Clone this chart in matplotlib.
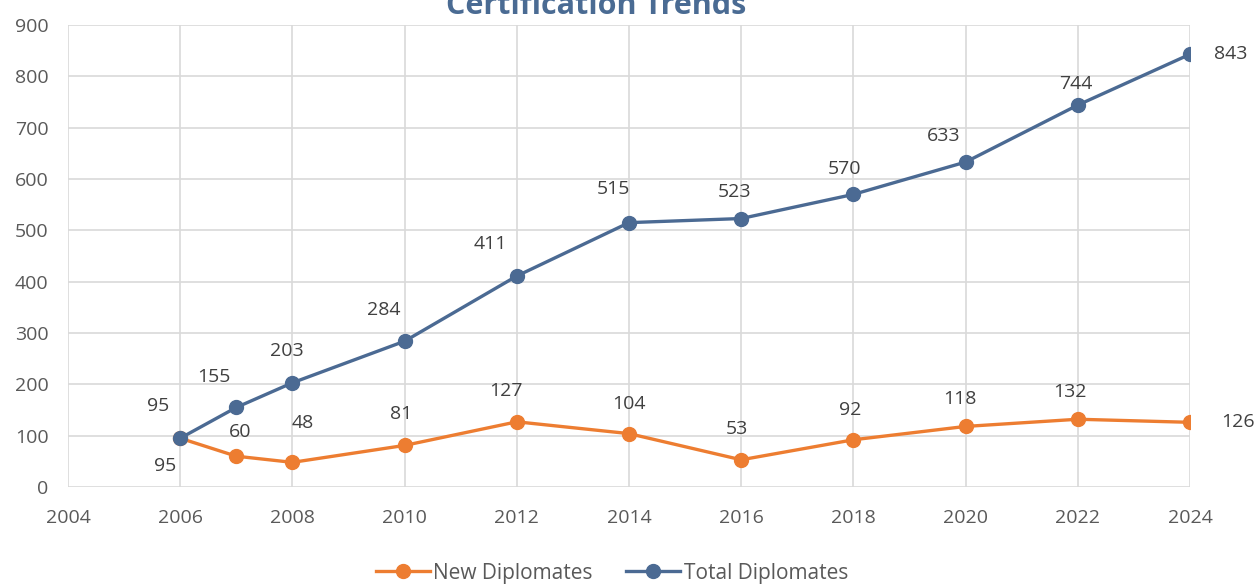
import matplotlib
matplotlib.use('Agg')
import matplotlib.pyplot as plt

# chart data
years = [2006, 2007, 2008, 2010, 2012, 2014, 2016, 2018, 2020, 2022, 2024]
new_dipl = [95, 60, 48, 81, 127, 104, 53, 92, 118, 132, 126]
total_dipl = [95, 155, 203, 284, 411, 515, 523, 570, 633, 744, 843]

# label offsets in pixels (dx, dy)
new_offs = [(-15, -28), (4, 24), (10, 39), (-3, 31), (-11, 31), (0, 30),
            (-4, 31), (-3, 30), (-6, 27), (-8, 27), (48, 0)]
tot_offs = [(-22, 32), (-22, 30), (-6, 32), (-21, 31), (-26, 32), (-16, 34),
            (-7, 27), (-9, 25), (-22, 26), (-2, 21), (41, 0)]

plt.rcParams['font.family'] = ['Open Sans', 'DejaVu Sans']
c_new = '#ED7D31'
c_tot = '#4B6A93'
txt_c = '#595959'
grid_c = '#D9D9D9'

fig = plt.figure(figsize=(12.6, 5.86), dpi=100)
ax = fig.add_axes([68 / 1260, 1 - 487 / 586, (1190 - 68) / 1260, (487 - 25) / 586])

ax.plot(years, new_dipl, color=c_new, lw=2.4, marker='o', ms=10,
        label='New Diplomates', zorder=3)
ax.plot(years, total_dipl, color=c_tot, lw=2.4, marker='o', ms=10,
        label='Total Diplomates', zorder=4)

px = 72 / 100  # pixels -> points
for x, y, (dx, dy) in zip(years, new_dipl, new_offs):
    ax.annotate(str(y), (x, y), xytext=(dx * px, dy * px), textcoords='offset points',
                ha='center', va='center', fontsize=14, color='#404040')
for x, y, (dx, dy) in zip(years, total_dipl, tot_offs):
    ax.annotate(str(y), (x, y), xytext=(dx * px, dy * px), textcoords='offset points',
                ha='center', va='center', fontsize=14, color='#404040')

ax.set_xlim(2004, 2024)
ax.set_ylim(0, 900)
ax.set_xticks(range(2004, 2025, 2))
ax.set_yticks(range(0, 901, 100))
ax.grid(True, color=grid_c, lw=1.2)
ax.set_axisbelow(True)
for s in ax.spines.values():
    s.set_visible(False)
ax.tick_params(length=0, labelsize=14, labelcolor=txt_c)
ax.tick_params(axis='x', pad=16)
ax.tick_params(axis='y', pad=14)

fig.text(596 / 1260, 1 - 6 / 586, 'Certification Trends', ha='center', va='center',
         fontsize=22, fontweight='bold', color='#4A6B93')

fig.legend(loc='center', bbox_to_anchor=(612 / 1260, 1 - 573 / 586), ncol=2,
           frameon=False, fontsize=15, labelcolor=txt_c, handlelength=2.6,
           columnspacing=1.6, handletextpad=0.15)

fig.savefig('out.png', dpi=100)
